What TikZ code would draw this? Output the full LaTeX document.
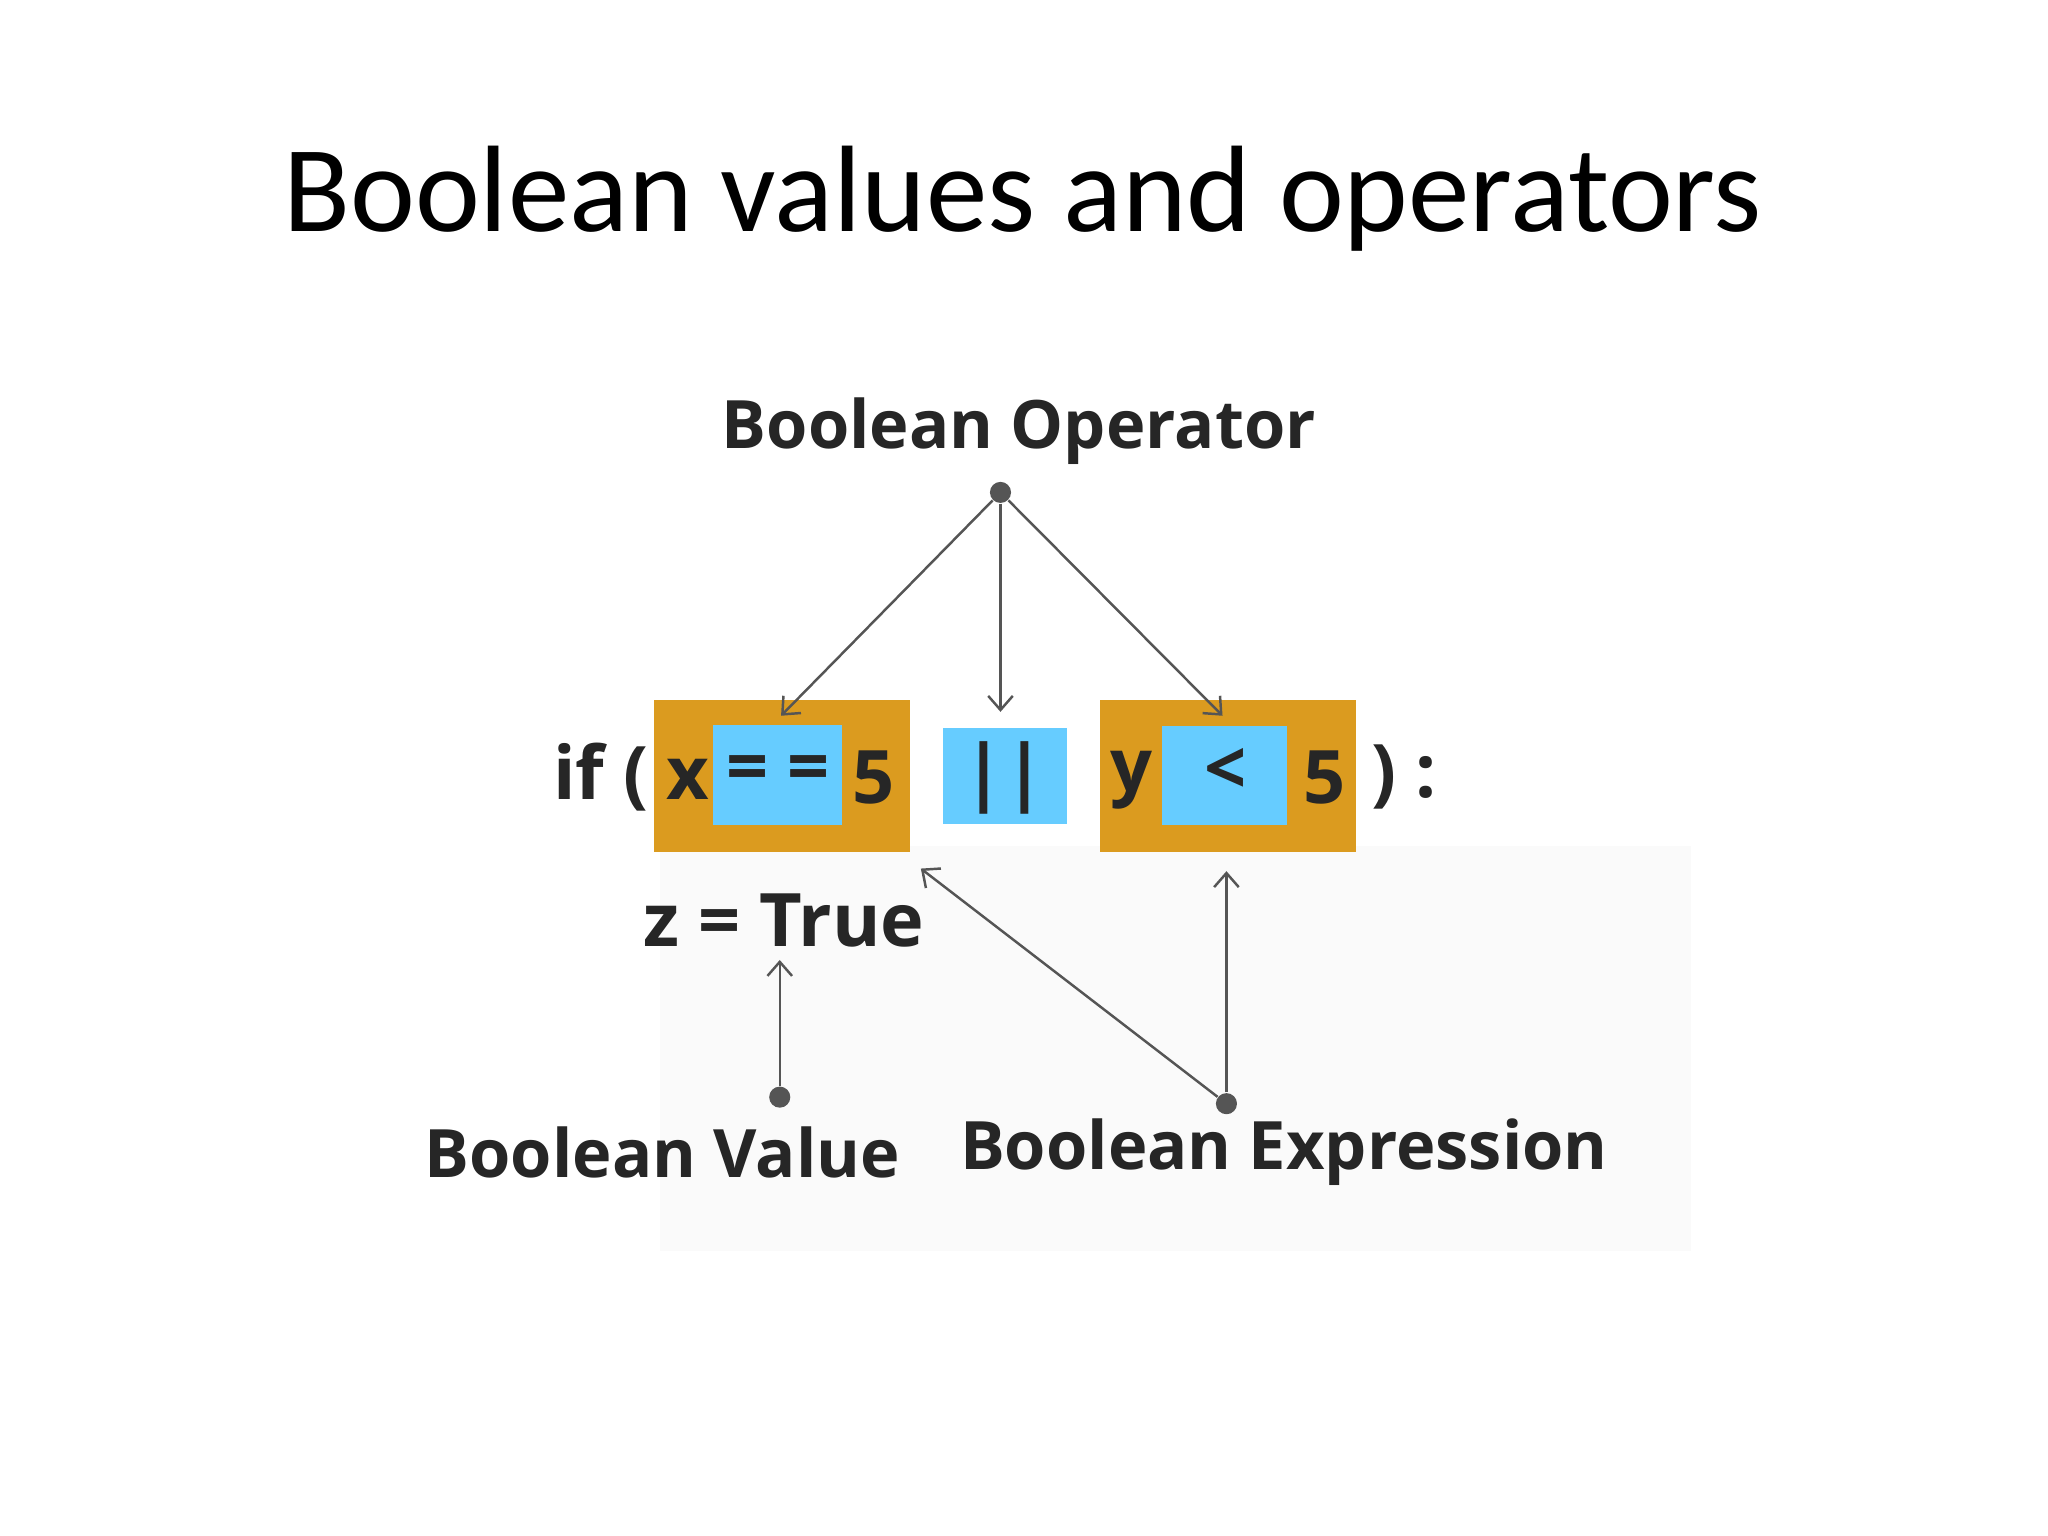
\documentclass[tikz,border=0pt]{standalone}
\usepackage{fontspec}
\setmainfont{Carlito}
\newfontfamily\lab{Open Sans}
\usetikzlibrary{arrows.meta}
\definecolor{org}{HTML}{DB9B1F}
\definecolor{sky}{HTML}{66CCFF}
\definecolor{gr}{HTML}{555555}
\begin{document}
\begin{tikzpicture}[x=0.01306cm,y=-0.01306cm,
  lbl/.style={font=\lab\fontsize{19}{22}\selectfont\bfseries,text=black!85},
  code/.style={font=\lab\fontsize{21}{24}\selectfont\bfseries,text=black!85},
  arr/.style={draw=gr,line width=0.7pt,-{Straight Barb[length=4pt,width=7pt]}},
  dot/.style={circle,fill=gr,inner sep=0pt,minimum size=6pt}]
\useasboundingbox (0,0) rectangle (1568,1176);
\fill[black!2] (505,648) rectangle (1295,958);
\node[font=\fontsize{35}{40}\selectfont] (title) at (783,152) {Boolean values and operators};
\fill[org] (501,536) rectangle (697,652);
\fill[sky] (546,555) rectangle (645,632);
\fill[sky] (722,557) rectangle (817,631);
\fill[org] (842,536) rectangle (1038,652);
\fill[sky] (890,556) rectangle (985,632);
\node[code] (if) at (460,595) {if (};
\node[code] (x) at (527,597) {x};
\node[code] (eq) at (596,593) {= =};
\node[code] (f1) at (669,595) {5};
\node[code] (or) at (769,596) {||};
\node[code] (y) at (866,597) {y};
\node[code] (lt) at (938,591) {<};
\node[code] (f2) at (1014,595) {5};
\node[code] (cl) at (1075,595) {) :};
\node[code] (z) at (600,705) {z = True};
\node[lbl] (bo) at (780,330) {Boolean Operator};
\node[lbl] (bv) at (507,882) {Boolean Value};
\node[lbl] (be) at (983,882) {Boolean Expression};
\node[dot] (d1) at (766,377) {};
\node[dot] (d2) at (597,840) {};
\node[dot] (d3) at (939,845) {};
\coordinate (t1) at (598,548); \coordinate (t2) at (766,545); \coordinate (t3) at (936,548);
\coordinate (t4) at (597,735); \coordinate (t5) at (939,667); \coordinate (t6) at (705,665);
\draw[arr] (d1) -- (t1); \draw[arr] (d1) -- (t2); \draw[arr] (d1) -- (t3);
\draw[arr] (d2) -- (t4); \draw[arr] (d3) -- (t5); \draw[arr] (d3) -- (t6);
\end{tikzpicture}
\end{document}
